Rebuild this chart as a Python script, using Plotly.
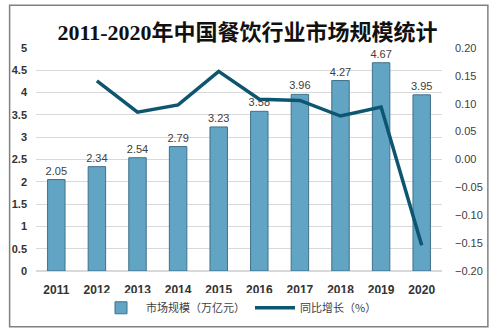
import plotly.graph_objects as go

# 2011-2020 China catering industry market size and year-on-year growth
years = ["2011", "2012", "2013", "2014", "2015", "2016", "2017", "2018", "2019", "2020"]
market_size = [2.05, 2.34, 2.54, 2.79, 3.23, 3.58, 3.96, 4.27, 4.67, 3.95]
growth_years = ["2012", "2013", "2014", "2015", "2016", "2017", "2018", "2019", "2020"]
growth_rate = [0.141, 0.085, 0.098, 0.158, 0.108, 0.106, 0.078, 0.094, -0.154]

left_ticks = [0, 0.5, 1, 1.5, 2, 2.5, 3, 3.5, 4, 4.5, 5]
left_labels = ["0", "0.5", "1", "1.5", "2", "2.5", "3", "3.5", "4", "4.5", "5"]
right_ticks = [-0.20, -0.15, -0.10, -0.05, 0.00, 0.05, 0.10, 0.15, 0.20]

CJK = "Microsoft YaHei, Noto Sans CJK SC, sans-serif"
TXT = "#404040"

fig = go.Figure()

fig.add_trace(go.Bar(
    x=years, y=market_size, name="市场规模（万亿元）",
    marker=dict(color="#62a4c3", line=dict(color="#3f7189", width=1)),
    width=0.43,
    text=[f"{v:.2f}" for v in market_size], textposition="outside",
    constraintext="none",
    textfont=dict(family="Liberation Sans, Arial, sans-serif", size=11, color=TXT),
    cliponaxis=False,
))

fig.add_trace(go.Scatter(
    x=growth_years, y=growth_rate, name="同比增长（%）", yaxis="y2",
    mode="lines", line=dict(color="#0e5670", width=3.5),
))

fig.update_layout(
    width=495, height=334,
    margin=dict(l=30, r=50, t=48, b=62),
    paper_bgcolor="white", plot_bgcolor="white",
    title=dict(
        text="<b>2011-2020年中国餐饮行业市场规模统计</b>",
        x=0.5, xref="container", xanchor="center",
        y=1 - 32 / 334, yanchor="middle",
        font=dict(family="Liberation Serif, Noto Sans CJK SC, serif", size=22, color="#111111"),
    ),
    xaxis=dict(
        type="category", categoryorder="array", categoryarray=years,
        showgrid=False, showline=False, ticks="",
        tickfont=dict(family="Liberation Sans, Arial, sans-serif", size=12, color="#333333", weight="bold"),
        ticklabelstandoff=10,
    ),
    yaxis=dict(
        range=[0, 5], tickvals=left_ticks, ticktext=left_labels,
        showgrid=True, gridcolor="#d9d9d9", gridwidth=1,
        zeroline=True, zerolinecolor="#d9d9d9",
        tickfont=dict(family="Liberation Sans, Arial, sans-serif", size=11, color="#333333", weight="bold"),
        ticklabelstandoff=8,
    ),
    yaxis2=dict(
        range=[-0.20, 0.20], tickvals=right_ticks, tickformat=".2f",
        overlaying="y", side="right", showgrid=False, zeroline=False,
        tickfont=dict(family="Liberation Sans, Arial, sans-serif", size=11, color=TXT),
        ticklabelstandoff=12,
    ),
    legend=dict(
        orientation="h", x=0.5, xanchor="center", y=-0.165, yanchor="middle",
        font=dict(family=CJK, size=11, color=TXT),
        itemwidth=40, traceorder="normal",
    ),
    bargap=0.5,
    showlegend=True,
    shapes=[dict(
        type="rect", xref="paper", yref="paper",
        x0=-0.065, x1=1.113, y0=-0.25, y1=1.192,
        line=dict(color="#808080", width=1.5), fillcolor="rgba(0,0,0,0)", layer="below",
    )],
)

fig.write_html("out.html")
